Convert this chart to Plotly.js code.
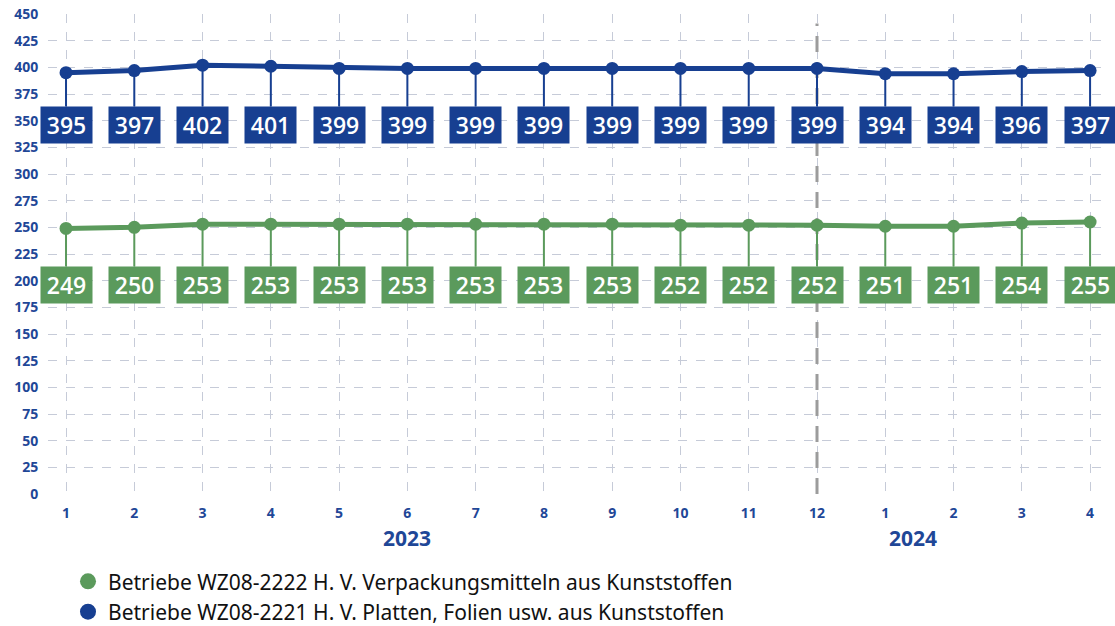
<!DOCTYPE html>
<html><head><meta charset="utf-8">
<script src="https://cdn.plot.ly/plotly-3.0.1.min.js"></script>
<style>html,body{margin:0;padding:0;background:#fff}#chart{width:1115px;height:626px}</style>
</head><body><div id="chart"></div>
<script>
const months = ["1","2","3","4","5","6","7","8","9","10","11","12","1","2","3","4"];
const years = ["2023","2024"];
const greenName = "Betriebe WZ08-2222 H. V. Verpackungsmitteln aus Kunststoffen";
const blueName = "Betriebe WZ08-2221 H. V. Platten, Folien usw. aus Kunststoffen";
const greenValues = [249,250,253,253,253,253,253,253,253,252,252,252,251,251,254,255];
const blueValues = [395,397,402,401,399,399,399,399,399,399,399,399,394,394,396,397];

const BLUE = "#173f91", GREEN = "#5b9a5c", TICK = "#1f4797";
const idx = months.map((m,i)=>i);

const traces = [
  {x: idx, y: greenValues, mode: "lines+markers", line:{color:GREEN,width:5}, marker:{color:GREEN,size:13}, showlegend:false, hoverinfo:"y"},
  {x: idx, y: blueValues, mode: "lines+markers", line:{color:BLUE,width:5}, marker:{color:BLUE,size:13}, showlegend:false, hoverinfo:"y"},
  {x:[null], y:[null], mode:"markers", marker:{color:GREEN,size:20}, name: greenName},
  {x:[null], y:[null], mode:"markers", marker:{color:BLUE,size:20}, name: blueName}
];

function labels(vals, color, labelY){
  return vals.map((v,i)=>({
    x: i, y: v, xref:"x", yref:"y",
    ax: i, ay: labelY, axref:"x", ayref:"y",
    text: String(v), showarrow:true, arrowhead:0, arrowwidth:2, arrowcolor:color, standoff:0,
    bgcolor: color, width: 51, height: 36, borderpad: 0,
    font:{family:"Open Sans, sans-serif", size:23, color:"#ffffff", weight:600}
  }));
}
const annotations = [
  ...labels(blueValues, BLUE, 346),
  ...labels(greenValues, GREEN, 196),
  {x:5, y:-0.058, xref:"x", yref:"paper", yanchor:"top", text: years[0], showarrow:false,
   font:{family:"Open Sans, sans-serif", size:21, color:TICK, weight:700}},
  {x:12.4, y:-0.058, xref:"x", yref:"paper", yanchor:"top", text: years[1], showarrow:false,
   font:{family:"Open Sans, sans-serif", size:21, color:TICK, weight:700}}
];

const layout = {
  width:1115, height:626,
  margin:{l:48, r:14, t:14, b:132, autoexpand:false},
  paper_bgcolor:"#fff", plot_bgcolor:"#fff",
  showlegend:true,
  legend:{x:0.019, y:-0.14, xanchor:"left", yanchor:"top", orientation:"v",
    font:{family:"Noto Sans, sans-serif", size:21, color:"#111"}, tracegroupgap:0, itemwidth:30},
  xaxis:{range:[-0.264,15.16], tickmode:"array", tickvals: idx, ticktext: months,
    showgrid:true, gridcolor:"#c6cbd8", griddash:"dash", gridwidth:1, zeroline:false, showline:false,
    ticks:"outside", ticklen:6, tickcolor:"rgba(0,0,0,0)",
    tickfont:{family:"Open Sans, sans-serif", size:14, color:TICK, weight:700}, fixedrange:true},
  yaxis:{range:[0,450], tickmode:"linear", tick0:0, dtick:25,
    showgrid:true, gridcolor:"#c6cbd8", griddash:"dash", gridwidth:1, zeroline:false, showline:false,
    ticks:"outside", ticklen:6, tickcolor:"rgba(0,0,0,0)",
    tickfont:{family:"Open Sans, sans-serif", size:14, color:TICK, weight:700}, fixedrange:true},
  shapes:[{type:"line", xref:"x", yref:"y", x0:11, x1:11, y0:0, y1:441,
    line:{color:"#9c9c9c", width:3, dash:"16px,10px"}, layer:"between"}],
  annotations
};
Plotly.newPlot("chart", traces, layout, {displayModeBar:false, staticPlot:true});
</script></body></html>
